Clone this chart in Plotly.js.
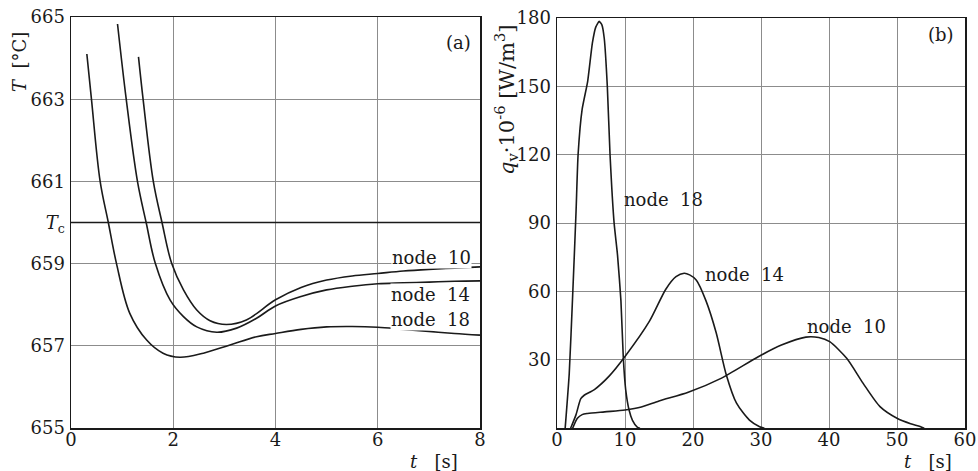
<!DOCTYPE html>
<html>
<head>
<meta charset="utf-8">
<script src="https://cdn.plot.ly/plotly-3.0.1.min.js"></script>
<style>html,body{margin:0;padding:0;background:#fff;}#chart{width:978px;height:471px;}</style>
</head>
<body>
<div id="chart"></div>
<script>
// ---- Panel (a): temperature T [°C] vs t [s]
const TC = 660;
const aNode10X = [1.32, 1.41, 1.61, 1.78, 1.97, 2.20, 2.46, 2.72, 3.04, 3.43, 4.0, 4.5, 5.0, 5.5, 6.0, 6.5, 7.0, 7.5, 8.0];
const aNode10Y = [664.03, 663.0, 661.0, 660.0, 659.0, 658.36, 657.87, 657.61, 657.52, 657.63, 658.12, 658.42, 658.60, 658.70, 658.76, 658.82, 658.86, 658.89, 658.92];
const aNode14X = [0.91, 1.08, 1.30, 1.47, 1.65, 1.94, 2.20, 2.46, 2.85, 3.24, 3.63, 4.0, 4.5, 5.0, 5.5, 6.0, 6.5, 7.0, 7.5, 8.0];
const aNode14Y = [664.83, 663.0, 661.0, 660.0, 659.0, 658.11, 657.71, 657.46, 657.33, 657.43, 657.67, 657.97, 658.20, 658.36, 658.45, 658.51, 658.53, 658.55, 658.57, 658.58];
const aNode18X = [0.31, 0.40, 0.57, 0.73, 0.89, 1.15, 1.48, 1.80, 2.13, 2.59, 3.11, 3.63, 4.0, 4.5, 5.0, 5.5, 6.0, 6.5, 7.0, 7.5, 8.0];
const aNode18Y = [664.10, 663.0, 661.0, 660.0, 659.0, 657.79, 657.14, 656.82, 656.72, 656.82, 657.02, 657.22, 657.30, 657.40, 657.46, 657.47, 657.45, 657.40, 657.35, 657.30, 657.26];
const aTickVals = [655, 657, 659, 660, 661, 663, 665];
const aTickText = ['655', '657', '659', '<i>T</i><sub>c</sub>', '661', '663', '665'];
const aXTicks = [0, 2, 4, 6, 8];

// ---- Panel (b): q_v·10^-6 [W/m^3] vs t [s]
const bNode18X = [1.2, 1.8, 2.3, 2.8, 3.1, 3.7, 4.5, 5.2, 5.7, 6.2, 6.6, 6.95, 7.4, 7.8, 8.4, 8.9, 9.4, 9.75, 10.1, 10.6, 11.1, 11.8, 12.2];
const bNode18Y = [0, 24, 58, 95, 120, 140, 152, 169, 176, 178.5, 177, 171, 150, 120, 90, 76, 56, 31, 17, 8, 3.5, 0.5, 0];
const bNode14X = [2.0, 2.8, 3.5, 4.0, 5.5, 7.7, 10.0, 13.6, 16.0, 17.5, 18.7, 19.5, 20.5, 21.9, 23.4, 24.9, 26.4, 28.3, 29.8, 30.5];
const bNode14Y = [0, 6, 13, 14.5, 17, 23, 31.5, 47, 61, 66.5, 68, 67.3, 65, 56, 42, 23.4, 11, 3.6, 0.7, 0];
const bNode10X = [2.3, 3.0, 3.7, 4.5, 7.0, 10.0, 12.4, 15.0, 19.3, 24.2, 29.6, 33.0, 36.6, 38.5, 40.1, 42.6, 45.0, 47.5, 50.0, 52.0, 53.4, 54.0];
const bNode10Y = [0, 4.4, 6.0, 6.5, 7.2, 8.0, 9.3, 12.0, 15.8, 22.0, 31.4, 36.5, 40.0, 39.8, 38.0, 30.7, 19.8, 9.5, 4.4, 2.0, 0.8, 0];
const bYTicks = [30, 60, 90, 120, 150, 180];
const bXTicks = [0, 10, 20, 30, 40, 50, 60];

const INK = '#1a1a1a';
const SERIF = 'DejaVu Serif';

function tr(x, y, xa, ya, smooth) {
  return {x: x, y: y, xaxis: xa, yaxis: ya, mode: 'lines',
    line: {color: INK, width: 1.6, shape: 'spline', smoothing: smooth},
    hoverinfo: 'skip', showlegend: false};
}

const data = [
  tr(aNode10X, aNode10Y, 'x', 'y', 1.0),
  tr(aNode14X, aNode14Y, 'x', 'y', 1.0),
  tr(aNode18X, aNode18Y, 'x', 'y', 1.0),
  tr(bNode18X, bNode18Y, 'x2', 'y2', 0.5),
  tr(bNode14X, bNode14Y, 'x2', 'y2', 0.7),
  tr(bNode10X, bNode10Y, 'x2', 'y2', 0.7)
];

const W = 978, H = 471;
const F = (s) => ({family: SERIF, size: s, color: INK});

const axBase = {
  showgrid: true, gridcolor: '#8c8c8c', gridwidth: 1,
  showline: true, linecolor: INK, linewidth: 1.5, mirror: true,
  zeroline: false, ticks: '', automargin: false, fixedrange: true,
  tickfont: F(18)
};

function lab(xr, yr, x, y, text, size, extra) {
  return Object.assign({xref: xr, yref: yr, x: x, y: y, text: text, showarrow: false,
    xanchor: 'center', yanchor: 'middle', font: F(size)}, extra || {});
}

const layout = {
  width: W, height: H,
  margin: {l: 0, r: 0, t: 0, b: 0},
  paper_bgcolor: '#ffffff', plot_bgcolor: '#ffffff',
  showlegend: false,
  font: F(18),
  xaxis: Object.assign({}, axBase, {domain: [71 / W, 480 / W], range: [0, 8], tickvals: aXTicks, anchor: 'y', ticklabelstandoff: -5}),
  yaxis: Object.assign({}, axBase, {domain: [(H - 428) / H, (H - 17) / H], range: [655, 665], tickvals: aTickVals, ticktext: aTickText, anchor: 'x', ticklabelstandoff: 1}),
  xaxis2: Object.assign({}, axBase, {domain: [557 / W, 965 / W], range: [0, 60], tickvals: bXTicks, anchor: 'y2', ticklabelstandoff: -5}),
  yaxis2: Object.assign({}, axBase, {domain: [(H - 428.3) / H, (H - 18) / H], range: [0, 180], tickvals: bYTicks, anchor: 'x2', ticklabelstandoff: 1}),
  shapes: [
    {type: 'line', xref: 'x', yref: 'y', x0: 0, x1: 8, y0: TC, y1: TC, line: {color: INK, width: 1.5}, layer: 'above'}
  ],
  annotations: [
    // panel (a) curve labels
    lab('x', 'y', 7.05, 659.14, 'node&nbsp;&nbsp;10', 18, {bgcolor: '#ffffff', borderpad: 0}),
    lab('x', 'y', 7.04, 658.24, 'node&nbsp;&nbsp;14', 18, {bgcolor: '#ffffff', borderpad: 0}),
    lab('x', 'y', 7.04, 657.63, 'node&nbsp;&nbsp;18', 18, {bgcolor: '#ffffff', borderpad: 0}),
    lab('x', 'y', 7.57, 664.39, '(a)', 18),
    // panel (b) curve labels
    lab('x2', 'y2', 15.6, 100.2, 'node&nbsp;&nbsp;18', 18),
    lab('x2', 'y2', 27.6, 67.3, 'node&nbsp;&nbsp;14', 18),
    lab('x2', 'y2', 42.6, 44.5, 'node&nbsp;&nbsp;10', 18),
    lab('x2', 'y2', 56.5, 172.6, '(b)', 18),
    // axis titles
    lab('paper', 'paper', 20 / W, (H - 62) / H, '<i>T</i>&nbsp;&nbsp;[°C]', 18, {textangle: -90}),
    lab('paper', 'paper', 506 / W, (H - 100) / H, '<i>q</i><sub>v</sub>·10<sup>-6</sup>&nbsp;[W/m<sup>3</sup>]', 21, {textangle: -90}),
    lab('paper', 'paper', 434 / W, (H - 461) / H, '<i>t</i>&nbsp;&nbsp;&nbsp;[s]', 18),
    lab('paper', 'paper', 928 / W, (H - 461) / H, '<i>t</i>&nbsp;&nbsp;&nbsp;[s]', 18)
  ]
};

Plotly.newPlot('chart', data, layout, {staticPlot: true, displayModeBar: false});
</script>
</body>
</html>
